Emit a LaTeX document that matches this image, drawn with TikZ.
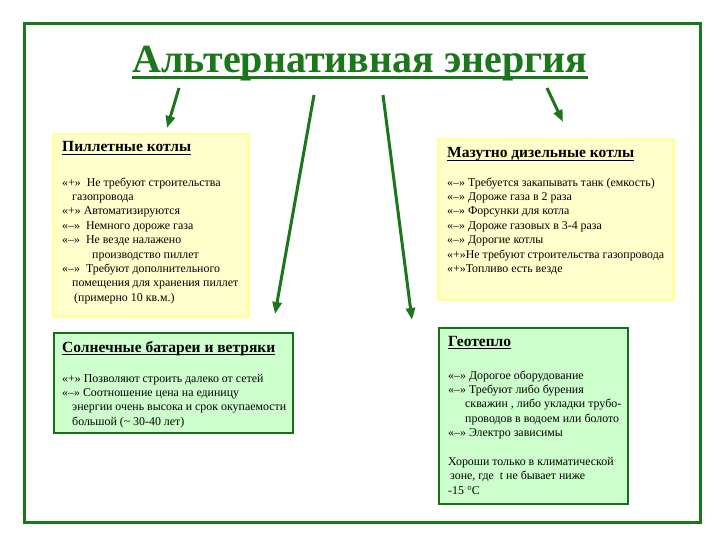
\documentclass[tikz,border=0pt]{standalone}
\usepackage{fontspec}
\setmainfont{Liberation Serif}
\usetikzlibrary{arrows.meta}
\definecolor{dgreen}{RGB}{28,118,28}
\definecolor{yfill}{RGB}{255,255,204}
\definecolor{yline}{RGB}{255,255,160}
\definecolor{gfill}{RGB}{204,255,204}
\definecolor{gline}{RGB}{20,112,20}
\begin{document}
\begin{tikzpicture}[x=1pt,y=-1pt,
  ybox/.style={draw=yline,fill=yfill,line width=2.5pt,anchor=north west,inner sep=0pt},
  gbox/.style={draw=gline,fill=gfill,line width=2.2pt,anchor=north west,inner sep=0pt},
  btitle/.style={anchor=base west,inner sep=0pt,font=\fontsize{15.5}{17}\selectfont\bfseries},
  uline/.style={line width=1.2pt},
  body/.style={anchor=base west,inner sep=0pt,align=left,font=\fontsize{11.9}{14.4}\selectfont},
  arr/.style={dgreen,line width=3pt,-{Triangle[length=12pt,width=9pt]}}]
\useasboundingbox (0,0) rectangle (720,540);
\fill[white] (0,0) rectangle (720,540);
\draw[dgreen,line width=3pt] (24,24) rectangle (700,522);

\node[anchor=base,inner sep=0pt,text=dgreen,font=\fontsize{40}{44}\selectfont\bfseries] (title) at (360,73) {Альтернативная энергия};
\draw[dgreen,line width=2.6pt] ([yshift=-4.5pt]title.base west) -- ([yshift=-4.5pt]title.base east);

% boxes
\node[ybox,minimum width=195pt,minimum height=182pt] (pel) at (52,133) {};
\node[ybox,minimum width=235pt,minimum height=160pt] (maz) at (437,138) {};
\node[gbox,minimum width=239pt,minimum height=100pt] (sol) at (53,332) {};
\node[gbox,minimum width=189pt,minimum height=176pt] (geo) at (438,327) {};

% pellet (body node placed at the baseline of its last line)
\node[btitle] (pelT) at (62,152) {Пиллетные котлы};
\draw[uline] ([yshift=-2.5pt]pelT.base west) -- ([yshift=-2.5pt]pelT.base east);
\node[body] (pelB) at (62,301.2) {«+»\ \ Не требуют строительства\\
\hspace*{10pt}газопровода\\
«+» Автоматизируются\\
«–»\ \ Немного дороже газа\\
«–»\ \ Не везде налажено\\
\hspace*{30pt}производство пиллет\\
«–»\ \ Требуют дополнительного\\
\hspace*{10pt}помещения для хранения пиллет\\
\hspace*{12pt}(примерно 10 кв.м.)};

% mazut
\node[btitle] (mazT) at (447,158) {Мазутно дизельные котлы};
\draw[uline] ([yshift=-2.5pt]mazT.base west) -- ([yshift=-2.5pt]mazT.base east);
\node[body] (mazB) at (447,272.4) {«–» Требуется закапывать танк (емкость)\\
«–» Дороже газа в 2 раза\\
«–» Форсунки для котла\\
«–» Дороже газовых в 3-4 раза\\
«–» Дорогие котлы\\
«+»Не требуют строительства газопровода\\
«+»Топливо есть везде};

% solar
\node[btitle] (solT) at (62,352) {Солнечные батареи и ветряки};
\draw[uline] ([yshift=-2.5pt]solT.base west) -- ([yshift=-2.5pt]solT.base east);
\node[body] (solB) at (62,425.2) {«+» Позволяют строить далеко от сетей\\
«–» Соотношение цена на единицу\\
\hspace*{10pt}энергии очень высока и срок окупаемости\\
\hspace*{10pt}большой (\textasciitilde\ 30-40 лет)};

% geo
\node[btitle] (geoT) at (448,346) {Геотепло};
\draw[uline] ([yshift=-2.5pt]geoT.base west) -- ([yshift=-2.5pt]geoT.base east);
\node[body] (geoB) at (448,494.2) {«–» Дорогое оборудование\\
«–» Требуют либо бурения\\
\hspace*{17pt}скважин , либо укладки трубо-\\
\hspace*{17pt}проводов в водоем или болото\\
«–» Электро зависимы\\[14.4pt]
Хороши только в климатической\\
\hspace*{2pt}зоне, где\ \ t не бывает ниже\\
-15 °С};

% arrows
\coordinate (a1s) at (179,88);  \coordinate (a1e) at (167,128);
\coordinate (a2s) at (314,95);  \coordinate (a2e) at (275,314);
\coordinate (a3s) at (383,95);  \coordinate (a3e) at (412,320);
\coordinate (a4s) at (547,88);  \coordinate (a4e) at (563,122);
\draw[arr] (a1s) -- (a1e);
\draw[arr] (a2s) -- (a2e);
\draw[arr] (a3s) -- (a3e);
\draw[arr] (a4s) -- (a4e);
\end{tikzpicture}
\end{document}
